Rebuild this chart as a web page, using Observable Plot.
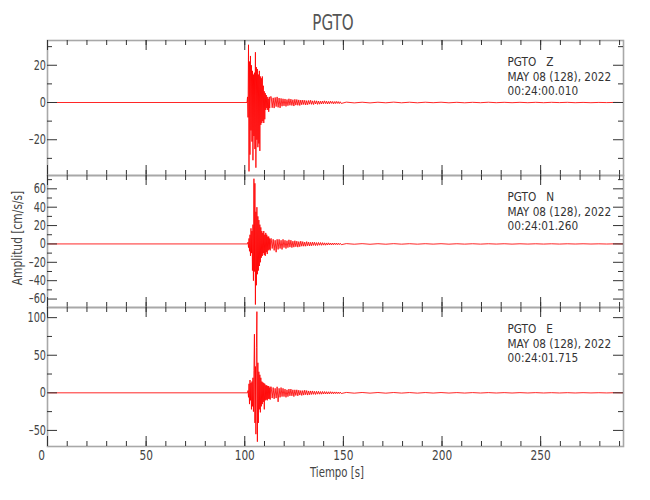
<!DOCTYPE html>
<html>
<head>
<meta charset="utf-8">
<script src="https://cdn.jsdelivr.net/npm/d3@7"></script>
<script src="https://cdn.jsdelivr.net/npm/@observablehq/plot@0.6"></script>
<style>
  body { margin: 0; background: #fff; }
  #wrap { position: relative; width: 650px; height: 500px; overflow: hidden; }
  #wrap svg { position: absolute; left: 0; }
</style>
</head>
<body>
<div id="wrap"></div>
<script>
// ---------- labels ----------
const station = "PGTO";
const components = ["Z", "N", "E"];
const dateLabel = "MAY 08 (128), 2022";
const startTimes = ["00:24:00.010", "00:24:01.260", "00:24:01.715"];
const xLabel = "Tiempo [s]";
const yLabel = "Amplitud [cm/s/s]";

// ---------- x axis ----------
const xDomain = [0, 292];
const xMajorTicks = [0, 50, 100, 150, 200, 250];
const xMinorTicks = [0, 10, 20, 30, 40, 50, 60, 70, 80, 90, 100, 110, 120, 130, 140, 150, 160, 170, 180, 190, 200, 210, 220, 230, 240, 250, 260, 270, 280, 290];

// ---------- y axes ----------
const zDomain = [-39.2, 33.3];
const zMajor = [-20, 0, 20];
const zMinor = [-30, -10, 10, 30];
const nDomain = [-69.2, 74.5];
const nMajor = [-60, -40, -20, 0, 20, 40, 60];
const nMinor = [-50, -30, -10, 10, 30, 50, 70];
const eDomain = [-71.4, 113.5];
const eMajor = [-50, 0, 50, 100];
const eMinor = [-25, 25, 75];

// ---------- trace samples ----------
const traceEnd = 292;
const mainStep = 0.25;      // s, strong motion part
const tail1Start = 113.4, tail1Step = 0.5;
const tail2Start = 151.5, tail2Step = 4;

const zOnset = 101.4;
const zMain = [3, -8, 31, -37, 22, -28, 25, -15, 20, -21, 17, -31, 15, -18, 16, -25, 27, -35, 19, -20, 18, -24, 15, -22, 17, -26, 14, -12, 13, -11, 14, -10, 9, -11, 6, -9, 5, -4, 4, -3, 3, -4, 2, -5, 3, -3, 3];
const zTail1 = [3.2, -2.8, 2.5, -3.0, 2.7, -2.2, 3.0, -2.6, 2.4, -2.9, 2.2, -2.0,
  2.0, -1.8, 1.9, -2.1, 1.6, -1.7, 2.0, -1.5, 1.8, -1.6, 1.5, -1.9, 1.7, -1.4, 1.6, -1.5, 1.4, -1.6, 1.3, -1.2,
  1.3, -1.1, 1.2, -1.3, 1.0, -1.2, 1.1, -0.9, 1.2, -1.0, 0.9, -1.1, 1.0, -0.8, 0.9, -1.0, 0.8, -0.9, 0.7, -0.8,
  0.8, -0.7, 0.9, -0.6, 0.7, -0.8, 0.6, -0.7, 0.7, -0.5, 0.6, -0.7, 0.5, -0.6, 0.6, -0.5, 0.5, -0.6, 0.4, -0.5];
const zTail2 = [0.2, -0.2, 0.15, -0.2, 0.15, -0.15, 0.2, -0.15, 0.15, -0.15, 0.15, -0.1, 0.15, -0.15, 0.1, -0.15, 0.1, -0.1, 0.15, -0.1, 0.1, -0.1, 0.1, -0.1, 0.1, -0.1, 0.1, -0.05, 0.1, -0.1, 0.05, -0.1, 0.05, -0.05, 0.05];

const nOnset = 101.65;
const nMain = [2, -4, 6, -8, 10, -13, 17, -10, 14, -29, 21, -40, 71, -30, 66, -66, 35, -45, 40, -33, 30, -29, 26, -24, 21, -20, 18, -15, 14, -13, 12, -10, 14, -12, 10, -13, 12, -9, 10, -11, 8, -7, 8, -6, 6, -7, 5];
const nTail1 = [6, -5, 5, -7, 4, -9, 5, -6, 5, -5, 4, -6,
  5, -4, 4, -5, 3.5, -4, 4.5, -3.5, 4, -4, 3, -3.5, 3.5, -3, 3, -3.5, 2.5, -3, 3, -2.5,
  2.5, -2.5, 2, -2.5, 2.5, -2, 2, -2.2, 1.8, -2, 2, -1.6, 1.8, -1.8, 1.5, -1.7, 1.6, -1.4, 1.5, -1.5,
  1.4, -1.3, 1.2, -1.4, 1.1, -1.2, 1.2, -1.0, 1.0, -1.1, 0.9, -1.0, 1.0, -0.8, 0.9, -0.9, 0.8, -0.8, 0.7, -0.8];
const nTail2 = [0.35, -0.3, 0.3, -0.35, 0.25, -0.3, 0.3, -0.25, 0.25, -0.25, 0.25, -0.2, 0.25, -0.25, 0.2, -0.2, 0.2, -0.2, 0.2, -0.15, 0.2, -0.2, 0.15, -0.15, 0.15, -0.15, 0.15, -0.15, 0.15, -0.1, 0.15, -0.1, 0.1, -0.1, 0.1];

const eOnset = 101.65;
const eMain = [3, -6, 12, -15, 17, -10, 13, -22, 15, -18, 20, -25, 30, 78, -40, 35, -55, 60, 108, -65, 40, -40, 28, -22, 24, -26, 20, -18, 15, -15, 14, -12, 13, -22, 12, -10, 10, -9, 10, -10, 9, -8, 9, -8, 7, -9, 8];
const eTail1 = [8, -7, 7, -8, 6, -7, 8, -12, 6, -6, 7, -5,
  6, -5, 5, -6, 4, -5, 5, -4, 5, -4, 4, -5, 4, -3.5, 4, -4, 3.5, -3, 3, -3.5,
  3, -3, 3.5, -2.5, 3, -3, 2.5, -2.5, 2.5, -2.2, 2.5, -2, 2, -2.2, 2, -1.8, 2, -1.8, 1.7, -1.8,
  1.8, -1.6, 1.7, -1.5, 1.5, -1.6, 1.4, -1.4, 1.5, -1.2, 1.3, -1.3, 1.2, -1.1, 1.2, -1.1, 1.0, -1.1, 1.0, -0.9];
const eTail2 = [0.5, -0.45, 0.45, -0.4, 0.4, -0.45, 0.4, -0.35, 0.35, -0.4, 0.35, -0.3, 0.35, -0.3, 0.3, -0.3, 0.3, -0.25, 0.3, -0.25, 0.25, -0.25, 0.25, -0.2, 0.25, -0.2, 0.2, -0.2, 0.2, -0.2, 0.2, -0.15, 0.15, -0.15, 0.15];

function buildTrace(onset, main, tail1, tail2) {
  const pts = [{t: 0, v: 0}, {t: onset - mainStep, v: 0}];
  main.forEach((v, i) => pts.push({t: onset + i * mainStep, v}));
  tail1.forEach((v, i) => pts.push({t: tail1Start + i * tail1Step, v}));
  tail2.forEach((v, i) => pts.push({t: tail2Start + i * tail2Step, v}));
  pts.push({t: traceEnd, v: 0});
  return pts;
}

// ---------- styling ----------
const FONT = "'Liberation Sans Narrow', 'DejaVu Sans Condensed', 'Roboto', sans-serif";
const TEXT = "#444";
const TICK = "#333";
const FRAME = "#a8a8a8";
const W = 650, ML = 47, MR = 27;
const fmtY = d => d < 0 ? "\u2013" + Math.abs(d) : String(d);

const panels = [
  {data: buildTrace(zOnset, zMain, zTail1, zTail2), domain: zDomain, major: zMajor, minor: zMinor, top: 40, h: 135, comp: components[0], time: startTimes[0]},
  {data: buildTrace(nOnset, nMain, nTail1, nTail2), domain: nDomain, major: nMajor, minor: nMinor, top: 175, h: 132, comp: components[1], time: startTimes[1]},
  {data: buildTrace(eOnset, eMain, eTail1, eTail2), domain: eDomain, major: eMajor, minor: eMinor, top: 307, h: 139, comp: components[2], time: startTimes[2], last: true}
];

const wrap = document.getElementById("wrap");
const fw = W - ML - MR;

// condense a text element horizontally around its own anchor
function condense(t, s, shift) {
  const x = parseFloat(t.getAttribute("x")) || 0;
  const tr = t.getAttribute("transform") || "";
  t.setAttribute("transform", `${tr} translate(${x + shift},0) scale(${s},1) translate(${-x},0)`);
}

panels.forEach(p => {
  const mt = 1, mb = p.last ? 53 : 1;
  const info = `${station}   ${p.comp}\n${dateLabel}\n${p.time}`;
  const marks = [
    Plot.line(p.data, {x: "t", y: "v", stroke: "#ff0000", strokeWidth: 0.85, clip: true}),
    Plot.frame({stroke: FRAME, strokeWidth: 1.6}),
    Plot.tickX(xMinorTicks, {x: d => d, insetTop: p.h - 5, stroke: TICK}),
    Plot.tickX(xMinorTicks, {x: d => d, insetBottom: p.h - 5, stroke: TICK}),
    Plot.tickX(xMajorTicks, {x: d => d, insetTop: p.h - 10, stroke: TICK}),
    Plot.tickX(xMajorTicks, {x: d => d, insetBottom: p.h - 10, stroke: TICK}),
    Plot.tickY(p.minor, {y: d => d, insetRight: fw - 5, stroke: TICK}),
    Plot.tickY(p.minor, {y: d => d, insetLeft: fw - 5, stroke: TICK}),
    Plot.tickY(p.major, {y: d => d, insetRight: fw - 10, stroke: TICK}),
    Plot.tickY(p.major, {y: d => d, insetLeft: fw - 10, stroke: TICK}),
    Plot.axisY({ticks: p.major, tickSize: 0, tickPadding: 1.5, tickFormat: fmtY, label: null, fill: TEXT, fontSize: 13.5, className: "ylab"}),
    Plot.text([info], {text: d => d, frameAnchor: "top-right", textAnchor: "start", lineAnchor: "top", dx: -(W - MR - 507), dy: 15.5, lineHeight: 1.115, fontSize: 13, fill: "#333", className: "info"})
  ];
  if (p.last) {
    marks.push(Plot.axisX({ticks: xMajorTicks, tickSize: 0, tickPadding: 4, label: null, fill: TEXT, fontSize: 14, className: "xlab"}));
  }
  const svg = Plot.plot({
    width: W,
    height: mt + p.h + mb,
    marginTop: mt, marginBottom: mb, marginLeft: ML, marginRight: MR,
    x: {domain: xDomain, axis: p.last ? undefined : null},
    y: {domain: p.domain},
    style: {fontFamily: FONT, background: "transparent", overflow: "visible"},
    marks
  });
  svg.style.top = (p.top - mt) + "px";
  svg.querySelectorAll("text").forEach(t => {
    if (t.closest(".info")) condense(t, 0.9, 0);
    else if (t.closest(".xlab")) condense(t, 0.84, t.textContent === "0" ? -6 : 0);
    else condense(t, 0.8, 0);
  });
  wrap.appendChild(svg);
});

// ---------- overlay titles ----------
const ov = d3.select(wrap).append("svg")
  .attr("width", W).attr("height", 500)
  .style("top", "0px").style("pointer-events", "none")
  .style("font-family", FONT);
ov.append("text").attr("transform", `translate(${ML + fw / 2 - 2},30) scale(0.8,1)`).attr("text-anchor", "middle")
  .attr("font-size", 21).attr("fill", "#555").text(station);
ov.append("text").attr("transform", `translate(${ML + fw / 2 + 2},477) scale(0.78,1)`).attr("text-anchor", "middle")
  .attr("font-size", 14.5).attr("fill", TEXT).text(xLabel);
ov.append("text").attr("transform", "translate(22,238) rotate(-90) scale(0.82,1)").attr("text-anchor", "middle")
  .attr("font-size", 14.5).attr("fill", TEXT).text(yLabel);
</script>
</body>
</html>
